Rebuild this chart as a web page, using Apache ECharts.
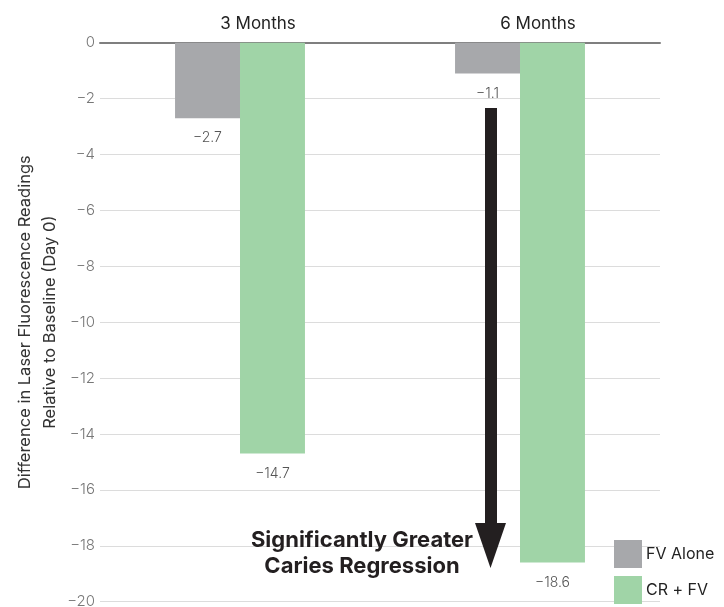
<!DOCTYPE html>
<html>
<head>
<meta charset="utf-8">
<script src="https://cdn.jsdelivr.net/npm/echarts@6/dist/echarts.min.js"></script>
<style>html,body{margin:0;padding:0;background:#fff}#c{width:724px;height:607px}</style>
</head>
<body>
<div id="c"></div>
<script>
const categories = ['3 Months', '6 Months'];
const fvAlone = [-2.7, -1.1];
const crFv = [-14.7, -18.6];
const seriesNames = ['FV Alone', 'CR + FV'];
const yTitle = 'Difference in Laser Fluorescence Readings\nRelative to Baseline (Day 0)';
const annotation = 'Significantly Greater\nCaries Regression';

const FONT = 'Inter';
const minus = v => String(v).replace('-', '\u2212');

const chart = echarts.init(document.getElementById('c'));
const labelStyle = {
  show: true, position: 'bottom', distance: 13,
  color: '#555', fontSize: 14, fontWeight: 300, fontFamily: FONT,
  formatter: p => minus(p.value)
};
chart.setOption({
  animation: false,
  textStyle: { fontFamily: FONT },
  grid: { left: 100, right: 64, top: 42.7, bottom: 5.3, containLabel: false, outerBoundsMode: 'none' },
  legend: {
    orient: 'vertical', left: 614, top: 540, itemWidth: 28, itemHeight: 28, itemGap: 8,
    padding: 0, icon: 'rect',
    textStyle: { fontSize: 16, color: '#222', fontFamily: FONT, padding: [0, 0, 0, -1] },
    data: seriesNames
  },
  xAxis: {
    type: 'category', position: 'top', data: categories,
    axisLine: { lineStyle: { color: '#7f7f7f', width: 2 } },
    axisTick: { show: false },
    axisLabel: { color: '#222', fontSize: 17, margin: 10, padding: [0, 0, 0, 36], fontFamily: FONT }
  },
  yAxis: {
    type: 'value', min: -20, max: 0, interval: 2,
    name: yTitle, nameLocation: 'middle', nameGap: 37, nameRotate: 90, nameMoveOverlap: false,
    nameTextStyle: { fontSize: 16.5, color: '#333', lineHeight: 25, fontFamily: FONT },
    axisLine: { show: false }, axisTick: { show: false },
    axisLabel: { color: '#777', fontSize: 15, fontWeight: 300, margin: 5, formatter: v => minus(v), fontFamily: FONT },
    splitLine: { lineStyle: { color: '#dcdcdc', width: 1 } }
  },
  series: [
    { name: seriesNames[0], type: 'bar', data: fvAlone, barGap: '0%', barCategoryGap: '53.6%',
      itemStyle: { color: '#a7a8ab' }, label: labelStyle },
    { name: seriesNames[1], type: 'bar', data: crFv, barGap: '0%', barCategoryGap: '53.6%',
      itemStyle: { color: '#a0d4a7' }, label: labelStyle }
  ],
  graphic: [
    { type: 'rect', shape: { x: 485, y: 108, width: 12, height: 417 }, style: { fill: '#231f20' }, z: 10 },
    { type: 'polygon', shape: { points: [[475, 523], [506, 523], [490.5, 568]] }, style: { fill: '#231f20' }, z: 10 },
    { type: 'text', x: 362, y: 553, z: 10,
      style: { text: annotation, textAlign: 'center', textVerticalAlign: 'middle', fill: '#231f20',
        font: 'bold 22px Inter', lineHeight: 26 } }
  ]
});
</script>
</body>
</html>
